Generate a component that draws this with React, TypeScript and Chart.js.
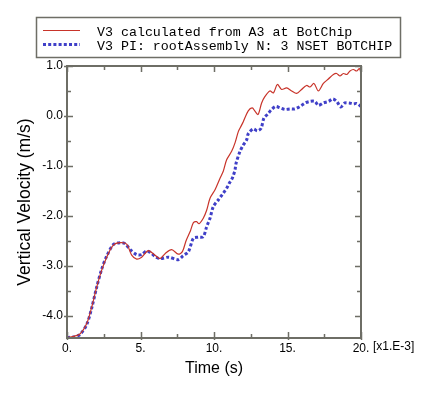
import React, { useEffect, useRef } from "react";
import { Chart, registerables } from "chart.js";

Chart.register(...registerables);

// ---- data (time in 1e-3 s, vertical velocity in m/s) ----
const timeCalc = [
  0, 0.4, 0.88, 1.34, 1.68, 2.02, 2.36, 2.7, 3.15, 3.61, 4.06, 4.4, 4.74, 5.08, 5.53, 5.99,
  6.33, 6.67, 7.12, 7.57, 7.85, 8.1, 8.4, 8.6, 8.82, 8.98, 9.27, 9.5, 9.73, 10.07, 10.41,
  10.63, 10.86, 11.2, 11.43, 11.66, 11.85, 12.0, 12.33, 12.6, 12.8, 13.0, 13.24, 13.47, 13.8,
  14.04, 14.31, 14.6, 14.94, 15.28, 15.62, 15.96, 16.3, 16.53, 16.8, 17.1, 17.44, 17.78,
  18.12, 18.34, 18.57, 18.8, 19.03, 19.25, 19.48, 19.7, 19.89, 20.0,
];
const velCalc = [
  -4.44, -4.42, -4.37, -4.16, -3.83, -3.43, -3.09, -2.83, -2.59, -2.54, -2.57, -2.79, -2.87,
  -2.83, -2.7, -2.79, -2.86, -2.76, -2.68, -2.77, -2.72, -2.5, -2.3, -2.14, -2.12, -2.16,
  -2.05, -1.89, -1.65, -1.48, -1.25, -1.11, -0.88, -0.71, -0.54, -0.31, -0.2, -0.11, 0.1,
  0.16, 0.09, 0.03, 0.26, 0.39, 0.5, 0.46, 0.63, 0.53, 0.56, 0.5, 0.45, 0.53, 0.61, 0.58,
  0.65, 0.5, 0.65, 0.74, 0.83, 0.85, 0.8, 0.85, 0.83, 0.9, 0.93, 0.9, 0.95, 0.85,
];
const timeHist = [
  0, 0.43, 0.88, 1.34, 1.68, 2.02, 2.36, 2.7, 3.15, 3.61, 3.95, 4.3, 4.74, 5.08, 5.4, 5.7,
  6.0, 6.33, 6.9, 7.57, 7.9, 8.26, 8.6, 8.93, 9.27, 9.5, 9.73, 9.95, 10.3, 10.6, 10.86,
  11.04, 11.27, 11.43, 11.5, 11.77, 12.0, 12.22, 12.33, 12.67, 12.95, 13.2, 13.4, 13.63,
  13.93, 14.2, 14.5, 14.83, 15.17, 15.5, 15.85, 16.2, 16.53, 16.87, 17.1, 17.44, 17.8,
  18.07, 18.35, 18.62, 18.9, 19.2, 19.48, 19.7, 20.0,
];
const velHist = [
  -4.44, -4.43, -4.38, -4.18, -3.85, -3.43, -3.07, -2.81, -2.58, -2.54, -2.56, -2.68, -2.78,
  -2.78, -2.71, -2.74, -2.82, -2.86, -2.83, -2.88, -2.8, -2.72, -2.45, -2.43, -2.42, -2.22,
  -2.05, -1.82, -1.68, -1.56, -1.45, -1.35, -1.23, -1.08, -0.95, -0.71, -0.58, -0.48, -0.36,
  -0.26, -0.3, -0.25, -0.04, 0.03, 0.13, 0.19, 0.16, 0.13, 0.14, 0.14, 0.19, 0.26, 0.29,
  0.29, 0.21, 0.26, 0.29, 0.34, 0.29, 0.18, 0.26, 0.26, 0.24, 0.25, 0.19,
];

const seriesLabels = [
  "V3 calculated from A3 at BotChip",
  "V3 PI: rootAssembly N: 3 NSET BOTCHIP",
];
const yTickValues = [-4, -3, -2, -1, 0, 1];
const xTickValues = [0, 5, 10, 15, 20];
const yMinorTicks = [-4, -3.5, -3, -2.5, -2, -1.5, -1, -0.5, 0, 0.5, 1];
const xMinorTicks = [0, 2.5, 5, 7.5, 10, 12.5, 15, 17.5, 20];
const xUnitNote = "[x1.E-3]";
const xTitle = "Time (s)";
const yTitle = "Vertical Velocity (m/s)";

const FRAME = "#6e6e66";
const RED = "#c8342a";
const BLUE = "#4040c8";

const framePlugin = {
  id: "abaqusFrame",
  afterDatasetsDraw(chart: any) {
    const { ctx, chartArea, scales } = chart;
    const { left, right, top, bottom } = chartArea;
    const x = scales.x;
    const y = scales.y;
    ctx.save();
    ctx.strokeStyle = FRAME;
    ctx.lineWidth = 2;
    ctx.strokeRect(left, top, right - left, bottom - top);
    ctx.lineWidth = 1.5;
    ctx.beginPath();
    for (const v of yMinorTicks) {
      const py = Math.round(y.getPixelForValue(v)) + 0.5;
      const major = Number.isInteger(v);
      ctx.moveTo(left - (major ? 3 : 0), py);
      ctx.lineTo(left + (major ? 6 : 4), py);
      ctx.moveTo(right - (major ? 6 : 4), py);
      ctx.lineTo(right, py);
    }
    for (const v of xMinorTicks) {
      const px = Math.round(x.getPixelForValue(v)) + 0.5;
      const major = v % 5 === 0;
      ctx.moveTo(px, bottom + (major ? 2 : 0));
      ctx.lineTo(px, bottom - (major ? 6 : 4));
      ctx.moveTo(px, top);
      ctx.lineTo(px, top + (major ? 6 : 4));
    }
    ctx.stroke();

    // unit note after the last x tick label
    ctx.fillStyle = "#000";
    ctx.font = "12px 'Liberation Sans', Arial, sans-serif";
    ctx.textBaseline = "top";
    ctx.textAlign = "left";
    ctx.fillText(xUnitNote, x.getPixelForValue(20) + 12, bottom + 3);

    // legend box
    const bx = 36.5, by = 17.5, bw = 364, bh = 40;
    ctx.strokeStyle = FRAME;
    ctx.lineWidth = 1.5;
    ctx.strokeRect(bx, by, bw, bh);
    const rows = [31, 45];
    chart.data.datasets.forEach((ds: any, i: number) => {
      const ry = rows[i];
      ctx.save();
      ctx.strokeStyle = ds.borderColor;
      ctx.lineWidth = ds.borderWidth;
      ctx.setLineDash(ds.borderDash || []);
      ctx.beginPath();
      ctx.moveTo(43, ry - 0.5);
      ctx.lineTo(80, ry - 0.5);
      ctx.stroke();
      ctx.restore();
      ctx.fillStyle = "#000";
      ctx.font = "13.3px 'Liberation Mono', 'Courier New', monospace";
      ctx.textBaseline = "middle";
      ctx.textAlign = "left";
      ctx.fillText(ds.label, 97, ry + 1);
    });
    ctx.restore();
  },
};

export default function App() {
  const ref = useRef<HTMLCanvasElement | null>(null);
  useEffect(() => {
    document.body.style.margin = "0";
    const canvas = ref.current;
    if (!canvas) return;
    const chart = new Chart(canvas, {
      type: "line",
      data: {
        datasets: [
          {
            label: seriesLabels[0],
            data: timeCalc.map((t, i) => ({ x: t, y: velCalc[i] })),
            borderColor: RED,
            borderWidth: 1.2,
            pointRadius: 0,
            tension: 0.3,
            fill: false,
          },
          {
            label: seriesLabels[1],
            data: timeHist.map((t, i) => ({ x: t, y: velHist[i] })),
            borderColor: BLUE,
            borderWidth: 3,
            borderDash: [3, 2.2],
            pointRadius: 0,
            tension: 0.3,
            fill: false,
          },
        ],
      },
      options: {
        animation: false,
        responsive: false,
        layout: { padding: { top: 66, right: 77, left: 0, bottom: 0 } },
        plugins: { legend: { display: false }, tooltip: { enabled: false } },
        scales: {
          x: {
            type: "linear",
            min: 0,
            max: 20,
            grid: { display: false, drawTicks: false },
            border: { display: false },
            afterBuildTicks: (s: any) => {
              s.ticks = xTickValues.map((value) => ({ value }));
            },
            afterFit: (s: any) => {
              s.height = 55;
            },
            ticks: {
              padding: 3,
              maxRotation: 0,
              color: "#000",
              font: { family: "'Liberation Sans', Arial, sans-serif", size: 12 },
              callback: (v: any) => `${v}.`,
            },
            title: {
              display: true,
              text: xTitle,
              color: "#000",
              font: { family: "'Liberation Sans', Arial, sans-serif", size: 16 },
              padding: { top: 0, bottom: 15 },
            },
          },
          y: {
            type: "linear",
            min: -4.45,
            max: 1.0,
            grid: { display: false, drawTicks: false },
            border: { display: false },
            afterBuildTicks: (s: any) => {
              s.ticks = yTickValues.map((value) => ({ value }));
            },
            afterFit: (s: any) => {
              s.width = 67;
            },
            ticks: {
              padding: 4,
              color: "#000",
              font: { family: "'Liberation Sans', Arial, sans-serif", size: 12 },
              callback: (v: any) => Number(v).toFixed(1),
            },
            title: {
              display: true,
              text: yTitle,
              color: "#000",
              font: { family: "'Liberation Sans', Arial, sans-serif", size: 17.5 },
              padding: { top: 15, bottom: 0 },
            },
          },
        },
      },
      plugins: [framePlugin],
    } as any);
    return () => chart.destroy();
  }, []);
  return (
    <div style={{ width: 438, height: 393 }}>
      <canvas ref={ref} width={438} height={393} style={{ display: "block" }} />
    </div>
  );
}
